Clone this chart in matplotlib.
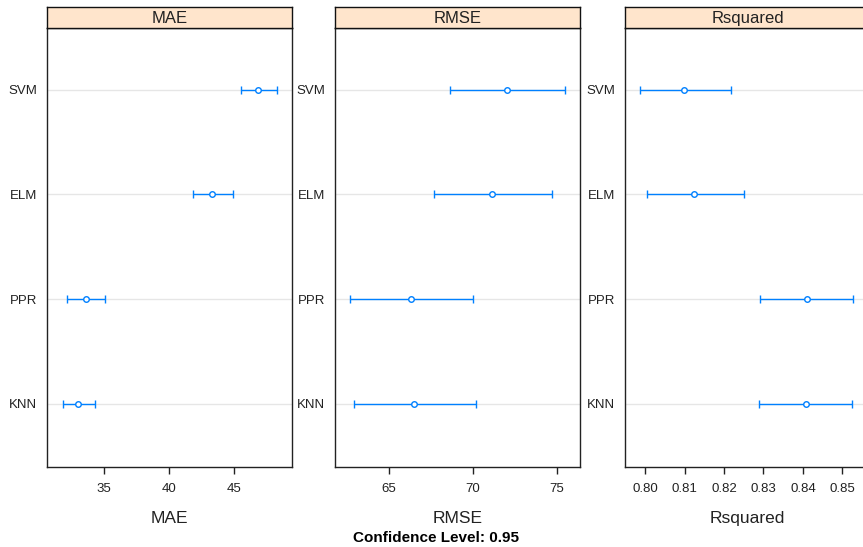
import numpy as np
import matplotlib.pyplot as plt

plt.rcParams.update(
    {
        "font.family": ["Liberation Sans", "DejaVu Sans"],
        "axes.linewidth": 1.0,
    }
)

# data: KNN, PPR, ELM, SVM from bottom to top
models = ["KNN", "PPR", "ELM", "SVM"]

mae_mid = [33.0, 33.6, 43.25, 46.85]
mae_lo = [31.87, 32.18, 41.8, 45.54]
mae_hi = [34.27, 35.05, 44.9, 48.25]

rmse_mid = [66.47, 66.29, 71.13, 72.04]
rmse_lo = [62.9, 62.66, 67.65, 68.63]
rmse_hi = [70.15, 70.0, 74.72, 75.49]

rsq_mid = [0.8407, 0.8410, 0.8123, 0.8098]
rsq_lo = [0.8289, 0.8290, 0.8005, 0.7987]
rsq_hi = [0.8524, 0.8528, 0.8250, 0.8217]

metrics = ["MAE", "RMSE", "Rsquared"]
xlims = [(30.59, 49.41), (61.77, 76.37), (0.7949, 0.8570)]
xticks = [[35, 40, 45], [65, 70, 75], [0.80, 0.81, 0.82, 0.83, 0.84, 0.85]]
xticklabels = [
    ["35", "40", "45"],
    ["65", "70", "75"],
    ["0.80", "0.81", "0.82", "0.83", "0.84", "0.85"],
]
panel_data = [
    (mae_mid, mae_lo, mae_hi),
    (rmse_mid, rmse_lo, rmse_hi),
    (rsq_mid, rsq_lo, rsq_hi),
]

W, H = 863, 547
fig = plt.figure(figsize=(W / 100, H / 100), dpi=100)

lefts = [46.7, 335.0, 625.0]
width = 245.0
bottom_px, top_px, strip_top_px = 466.7, 28.0, 7.0

line_col = "#0080ff"
edge_col = "#222222"

for i, metric in enumerate(metrics):
    x0 = lefts[i] / W
    w = width / W
    b = (H - bottom_px) / H
    h = (bottom_px - top_px) / H
    ax = fig.add_axes([x0, b, w, h])
    sax = fig.add_axes([x0, (H - top_px) / H, w, (top_px - strip_top_px) / H])

    mid, lo, hi = panel_data[i]
    y = np.arange(1, len(models) + 1)
    for yy in y:
        ax.axhline(yy, color="#e6e6e6", linewidth=1.0, zorder=0)
    mid = np.array(mid)
    err = np.vstack([mid - np.array(lo), np.array(hi) - mid])
    ax.errorbar(
        mid,
        y,
        xerr=err,
        fmt="none",
        ecolor=line_col,
        elinewidth=1.0,
        capsize=2.6,
        capthick=1.0,
        zorder=2,
    )
    ax.plot(
        mid,
        y,
        linestyle="none",
        marker="o",
        markersize=4.0,
        markerfacecolor="white",
        markeredgecolor=line_col,
        markeredgewidth=1.0,
        zorder=3,
    )

    ax.set_xlim(*xlims[i])
    ax.set_ylim(0.4, 4.59)
    ax.set_xticks(xticks[i])
    ax.set_xticklabels(xticklabels[i])
    ax.set_yticks(y)
    ax.set_yticklabels(models)
    ax.tick_params(axis="x", direction="out", length=5, width=1.0,
                   colors=edge_col, labelsize=9.5, pad=6.5, labelcolor="#222222")
    ax.tick_params(axis="y", length=0, pad=7, labelsize=9.5, labelcolor="#222222")
    for s in ax.spines.values():
        s.set_color(edge_col)
    ax.set_xlabel(metric, fontsize=12.5, labelpad=11.5, color="#222222")

    # strip on top
    sax.set_facecolor("#ffe5cc")
    sax.set_xticks([])
    sax.set_yticks([])
    for s in sax.spines.values():
        s.set_color("#111111")
    sax.text(0.5, 0.45, metric, ha="center", va="center", fontsize=12,
             color="#222222", transform=sax.transAxes)

fig.text(435.5 / W, (H - 537.5) / H, "Confidence Level: 0.95", ha="center",
         va="center", fontsize=11, fontweight="bold")

plt.savefig("out.png", dpi=100)
